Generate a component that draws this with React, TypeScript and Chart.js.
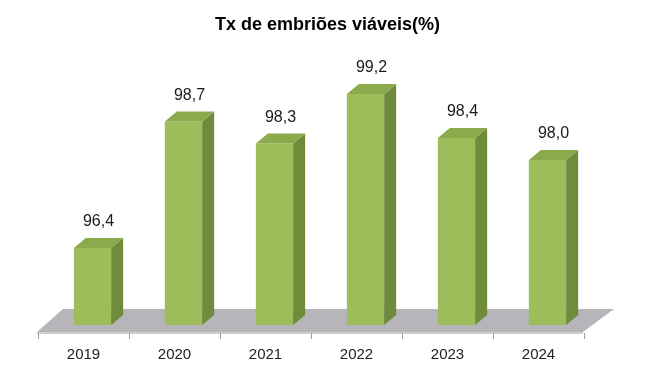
import React, { useEffect, useRef } from 'react';
import { Chart, registerables } from 'chart.js';

Chart.register(...registerables);

const categories: string[] = ['2019', '2020', '2021', '2022', '2023', '2024'];
const values: number[] = [96.4, 98.7, 98.3, 99.2, 98.4, 98.0];
const yMin = 95;
const yMax = 100;
const titleText = 'Tx de embriões viáveis(%)';

const FRONT = '#9dbd5b';
const SIDE = '#6f8b3c';
const TOP = '#8aaa4b';
const FLOOR = '#b7b5ba';
const FLOOR_EDGE = '#cfcfd1';
const TICK = '#9a9a9a';
const FONT = "'Liberation Sans', Arial, sans-serif";

const SHIFT = 9; // bar sits mid-depth on the floor
const DX = 12;
const DY = 10;

const bar3d = {
  id: 'bar3d',
  beforeDatasetsDraw(chart: any) {
    const { ctx, chartArea } = chart;
    const xs = chart.scales.x;
    const front = chartArea.bottom + 7;
    const L = chartArea.left - 1;
    const R = chartArea.right - 1;
    ctx.save();
    ctx.fillStyle = FLOOR;
    ctx.beginPath();
    ctx.moveTo(L, front);
    ctx.lineTo(R, front);
    ctx.lineTo(R + 31, front - 23);
    ctx.lineTo(L + 26, front - 23);
    ctx.closePath();
    ctx.fill();
    ctx.strokeStyle = FLOOR_EDGE;
    ctx.lineWidth = 2;
    ctx.beginPath();
    ctx.moveTo(L, front + 1);
    ctx.lineTo(R, front + 1);
    ctx.stroke();
    ctx.strokeStyle = TICK;
    ctx.lineWidth = 1;
    for (let i = 0; i <= categories.length; i++) {
      const x = Math.round(xs.getPixelForValue(i - 0.5)) + 0.5;
      ctx.beginPath();
      ctx.moveTo(x, front + 1);
      ctx.lineTo(x, front + 7);
      ctx.stroke();
    }
    ctx.restore();
    ctx.save();
    ctx.translate(SHIFT, 0);
  },
  afterDatasetsDraw(chart: any) {
    const { ctx } = chart;
    ctx.restore();
    const meta = chart.getDatasetMeta(0);
    const base = chart.scales.y.getPixelForValue(yMin);
    ctx.save();
    meta.data.forEach((el: any, i: number) => {
      const { x, y, width } = el.getProps(['x', 'y', 'width'], true);
      const l = x - width / 2 + SHIFT;
      const r = x + width / 2 + SHIFT;
      ctx.fillStyle = SIDE;
      ctx.beginPath();
      ctx.moveTo(r, y);
      ctx.lineTo(r + DX, y - DY);
      ctx.lineTo(r + DX, base - DY);
      ctx.lineTo(r, base);
      ctx.closePath();
      ctx.fill();
      ctx.fillStyle = TOP;
      ctx.beginPath();
      ctx.moveTo(l, y);
      ctx.lineTo(l + DX, y - DY);
      ctx.lineTo(r + DX, y - DY);
      ctx.lineTo(r, y);
      ctx.closePath();
      ctx.fill();
      ctx.fillStyle = '#1a1a1a';
      ctx.font = `16px ${FONT}`;
      ctx.textAlign = 'center';
      ctx.textBaseline = 'alphabetic';
      ctx.fillText(values[i].toFixed(1).replace('.', ','), x + SHIFT + DX / 2, y - DY - 12);
    });
    ctx.restore();
  },
  afterDraw(chart: any) {
    const { ctx, width } = chart;
    ctx.save();
    ctx.fillStyle = '#000';
    ctx.font = `bold 18px ${FONT}`;
    ctx.textAlign = 'center';
    ctx.textBaseline = 'middle';
    ctx.fillText(titleText, width / 2, 25);
    ctx.restore();
  },
};

export default function App() {
  const ref = useRef<HTMLCanvasElement>(null);
  useEffect(() => {
    if (!ref.current) return;
    const chart = new Chart(ref.current, {
      type: 'bar',
      data: {
        labels: categories,
        datasets: [
          {
            data: values,
            backgroundColor: FRONT,
            borderWidth: 0,
            categoryPercentage: 1,
            barPercentage: 0.41,
          },
        ],
      },
      options: {
        responsive: false,
        animation: false,
        layout: { padding: { left: 38, right: 71, top: 50, bottom: 0 } },
        plugins: {
          legend: { display: false },
          tooltip: { enabled: false },
          title: { display: false },
        },
        scales: {
          x: {
            grid: { display: false, drawTicks: false },
            border: { display: false },
            ticks: { color: '#222', font: { family: FONT, size: 15 }, padding: 21, maxRotation: 0 },
            afterFit: (scale: any) => {
              scale.height = 53;
            },
          },
          y: {
            display: false,
            min: yMin,
            max: yMax,
          },
        },
      },
      plugins: [bar3d],
    });
    return () => chart.destroy();
  }, []);
  return (
    <div style={{ position: 'absolute', left: 0, top: 0, width: 655, height: 378, background: '#fff' }}>
      <canvas ref={ref} width={655} height={378} />
    </div>
  );
}
